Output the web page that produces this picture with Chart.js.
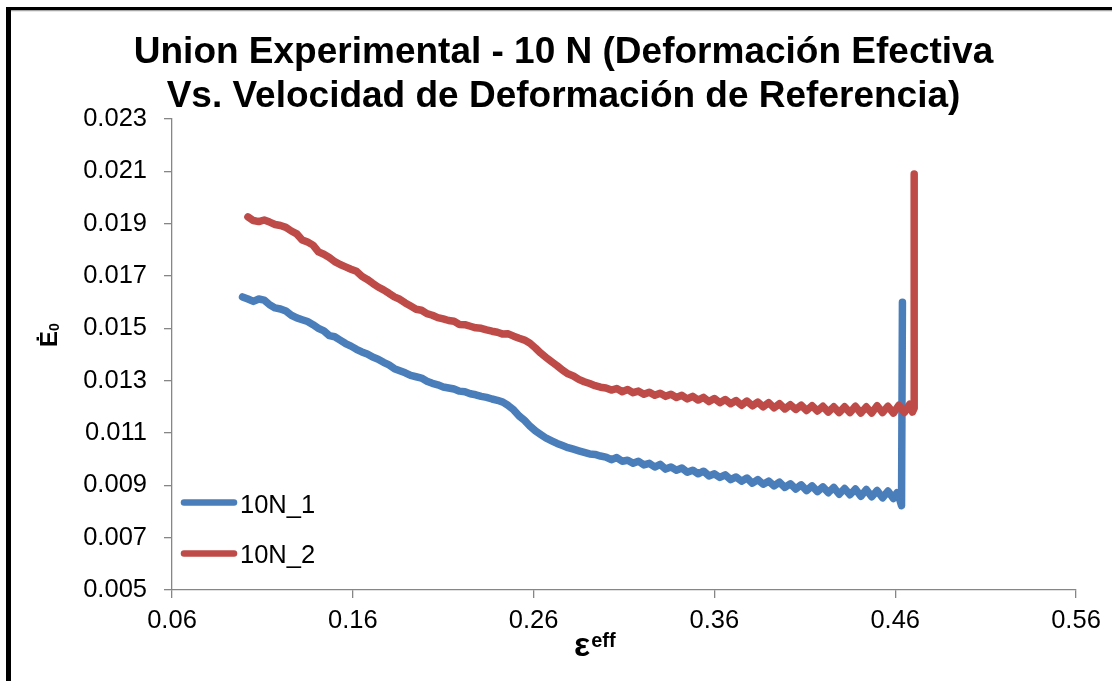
<!DOCTYPE html>
<html>
<head>
<meta charset="utf-8">
<script src="https://cdn.jsdelivr.net/npm/chart.js@4.4.1/dist/chart.umd.min.js"></script>
<style>
  html, body { margin: 0; padding: 0; background: #fff; }
  #wrap { width: 1112px; height: 681px; }
</style>
</head>
<body>
<div id="wrap"><canvas id="chart" width="1112" height="681"></canvas></div>
<script>
// values
const titleLines = ["Union Experimental - 10 N (Deformación Efectiva", "Vs. Velocidad de Deformación de Referencia)"];
const seriesNames = ["10N_1", "10N_2"];
const xTickVals = [0.06, 0.16, 0.26, 0.36, 0.46, 0.56];
const yTickVals = [0.005, 0.007, 0.009, 0.011, 0.013, 0.015, 0.017, 0.019, 0.021, 0.023];

// 10N_1 (blue)
const n1X = [0.099, 0.102, 0.105, 0.108, 0.111, 0.114, 0.117, 0.120, 0.123, 0.126, 0.129, 0.132, 0.135, 0.138, 0.141,
  0.144, 0.147, 0.150, 0.153, 0.156, 0.159, 0.162, 0.165, 0.168, 0.171, 0.174, 0.177, 0.180, 0.183, 0.186,
  0.189, 0.192, 0.195, 0.198, 0.201, 0.204, 0.207, 0.210, 0.213, 0.216, 0.219, 0.222, 0.225, 0.228, 0.231,
  0.234, 0.237, 0.240, 0.243, 0.246, 0.249, 0.252, 0.255, 0.258, 0.261, 0.264, 0.267, 0.270, 0.273, 0.276,
  0.279, 0.282, 0.285, 0.288, 0.291, 0.294, 0.297,
  0.300, 0.303, 0.306, 0.309, 0.312, 0.315, 0.318, 0.321, 0.324, 0.327, 0.330, 0.333, 0.336, 0.339, 0.342,
  0.345, 0.348, 0.351, 0.354, 0.357, 0.360, 0.363, 0.366, 0.369, 0.372, 0.375, 0.378, 0.381, 0.384, 0.387,
  0.390, 0.393, 0.396, 0.399, 0.402, 0.405, 0.408, 0.411, 0.414, 0.417, 0.420, 0.423, 0.426, 0.429, 0.432,
  0.435, 0.438, 0.441, 0.444, 0.447, 0.450, 0.453, 0.456, 0.459, 0.461, 0.4625, 0.4635, 0.4640];
const n1Y = [0.01620, 0.01612, 0.01603, 0.01612, 0.01608, 0.01590, 0.01578, 0.01574, 0.01566, 0.01550, 0.01540, 0.01533, 0.01526, 0.01514, 0.01500,
  0.01490, 0.01472, 0.01468, 0.01455, 0.01442, 0.01432, 0.01420, 0.01410, 0.01402, 0.01390, 0.01382, 0.01370, 0.01360, 0.01346, 0.01338,
  0.01330, 0.01320, 0.01315, 0.01310, 0.01298, 0.01290, 0.01284, 0.01276, 0.01272, 0.01268, 0.01260, 0.01258, 0.01250, 0.01246, 0.01240,
  0.01236, 0.01230, 0.01225, 0.01218, 0.01205, 0.01188, 0.01165, 0.01148, 0.01126, 0.01108, 0.01094, 0.01080, 0.01070, 0.01060, 0.01052,
  0.01044, 0.01038, 0.01032, 0.01026, 0.01020, 0.01018, 0.01012,
  0.01008, 0.00998, 0.01006, 0.00992, 0.00996, 0.00984, 0.00992, 0.00978, 0.00984, 0.00970, 0.00980, 0.00962, 0.00970, 0.00958, 0.00966,
  0.00950, 0.00958, 0.00944, 0.00954, 0.00936, 0.00944, 0.00930, 0.00940, 0.00922, 0.00932, 0.00916, 0.00928, 0.00908, 0.00922, 0.00904,
  0.00916, 0.00898, 0.00912, 0.00892, 0.00906, 0.00886, 0.00902, 0.00880, 0.00898, 0.00876, 0.00894, 0.00872, 0.00892, 0.00866, 0.00888,
  0.00864, 0.00886, 0.00858, 0.00884, 0.00856, 0.00880, 0.00852, 0.00878, 0.00850, 0.00872, 0.00846, 0.00822, 0.01600];

// 10N_2 (red)
const n2X = [0.102, 0.105, 0.108, 0.111, 0.114, 0.117, 0.120, 0.123, 0.126, 0.129, 0.132, 0.135, 0.138, 0.141, 0.144,
  0.147, 0.150, 0.153, 0.156, 0.159, 0.162, 0.165, 0.168, 0.171, 0.174, 0.177, 0.180, 0.183, 0.186, 0.189,
  0.192, 0.195, 0.198, 0.201, 0.204, 0.207, 0.210, 0.213, 0.216, 0.219, 0.222, 0.225, 0.228, 0.231, 0.234,
  0.237, 0.240, 0.243, 0.246, 0.249, 0.252, 0.255, 0.258, 0.261, 0.264, 0.267, 0.270, 0.273, 0.276, 0.279,
  0.282, 0.285, 0.288, 0.291, 0.294, 0.297,
  0.300, 0.303, 0.306, 0.309, 0.312, 0.315, 0.318, 0.321, 0.324, 0.327, 0.330, 0.333, 0.336, 0.339, 0.342,
  0.345, 0.348, 0.351, 0.354, 0.357, 0.360, 0.363, 0.366, 0.369, 0.372, 0.375, 0.378, 0.381, 0.384, 0.387,
  0.390, 0.393, 0.396, 0.399, 0.402, 0.405, 0.408, 0.411, 0.414, 0.417, 0.420, 0.423, 0.426, 0.429, 0.432,
  0.435, 0.438, 0.441, 0.444, 0.447, 0.450, 0.453, 0.456, 0.459, 0.462, 0.465, 0.468, 0.4695, 0.4705, 0.4705];
const n2Y = [0.01926, 0.01912, 0.01908, 0.01914, 0.01906, 0.01897, 0.01893, 0.01886, 0.01872, 0.01861, 0.01838, 0.01830, 0.01818, 0.01792, 0.01783,
  0.01771, 0.01755, 0.01744, 0.01735, 0.01726, 0.01718, 0.01699, 0.01687, 0.01672, 0.01658, 0.01647, 0.01634, 0.01620, 0.01611, 0.01597,
  0.01585, 0.01573, 0.01569, 0.01556, 0.01550, 0.01541, 0.01536, 0.01530, 0.01527, 0.01515, 0.01514, 0.01508, 0.01502, 0.01500, 0.01494,
  0.01489, 0.01485, 0.01478, 0.01479, 0.01470, 0.01462, 0.01455, 0.01443, 0.01425, 0.01405, 0.01388, 0.01372, 0.01357, 0.01340, 0.01326,
  0.01318, 0.01305, 0.01296, 0.01289, 0.01281, 0.01275,
  0.01272, 0.01264, 0.01270, 0.01258, 0.01266, 0.01254, 0.01260, 0.01248, 0.01256, 0.01244, 0.01252, 0.01240, 0.01248, 0.01236, 0.01244,
  0.01230, 0.01240, 0.01226, 0.01236, 0.01220, 0.01232, 0.01216, 0.01228, 0.01212, 0.01224, 0.01206, 0.01222, 0.01204, 0.01218, 0.01200,
  0.01216, 0.01196, 0.01212, 0.01192, 0.01208, 0.01190, 0.01206, 0.01186, 0.01204, 0.01184, 0.01202, 0.01180, 0.01200, 0.01178, 0.01200,
  0.01178, 0.01202, 0.01176, 0.01200, 0.01176, 0.01204, 0.01178, 0.01202, 0.01176, 0.01206, 0.01178, 0.01210, 0.01180, 0.01195, 0.02090];

const blue = '#4A7EBB';
const red = '#BE4B48';
const axisGray = '#868686';
const font = '"Liberation Sans", Arial, sans-serif';

const toPoints = (xs, ys) => xs.map((x, i) => ({ x: x, y: ys[i] }));

// white page, black frame, title, axis titles, legend
const decorPlugin = {
    id: 'decor',
    beforeDraw(chart) {
        const c = chart.ctx;
        c.save();
        c.fillStyle = '#fff';
        c.fillRect(0, 0, chart.width, chart.height);
        c.fillStyle = '#000';
        c.fillRect(6, 7, chart.width - 6, 3.5);
        c.fillRect(6, 7, 5, chart.height - 7);
        c.fillStyle = '#d0d0d0';
        c.fillRect(11, 10.5, chart.width - 11, 1);
        c.restore();
    },
    afterDraw(chart) {
        const c = chart.ctx;
        c.save();
        c.fillStyle = '#000';

        // title
        c.font = 'bold 37px ' + font;
        c.textAlign = 'center';
        c.textBaseline = 'alphabetic';
        c.fillText(titleLines[0], 563.5, 63);
        c.fillText(titleLines[1], 563.5, 107);

        // x title: epsilon with superscript eff
        c.textAlign = 'left';
        c.font = 'bold 34px ' + font;
        c.fillText('ε', 574, 656);
        const ew = c.measureText('ε').width;
        c.font = 'bold 20px ' + font;
        c.fillText('eff', 574 + ew + 1, 647);

        // y title: E dot with subscript 0, rotated
        c.save();
        c.translate(57, 347);
        c.rotate(-Math.PI / 2);
        c.font = 'bold 24px ' + font;
        c.fillText('Ė', 0, 0);
        const w = c.measureText('Ė').width;
        c.font = 'bold 14px ' + font;
        c.fillText('0', w, 2);
        c.restore();

        // legend inside the plot
        const items = [
            { name: seriesNames[0], color: blue, y: 502.5, base: 512.5 },
            { name: seriesNames[1], color: red, y: 553.5, base: 563 }
        ];
        c.font = '25.5px ' + font;
        items.forEach(it => {
            c.strokeStyle = it.color;
            c.lineWidth = 6.5;
            c.lineCap = 'round';
            c.beginPath();
            c.moveTo(184, it.y);
            c.lineTo(234, it.y);
            c.stroke();
            c.fillStyle = '#000';
            c.fillText(it.name, 240, it.base);
        });
        c.restore();
    }
};

const lineStyle = {
    showLine: true,
    borderWidth: 7.5,
    pointRadius: 0,
    borderCapStyle: 'round',
    borderJoinStyle: 'round',
    tension: 0
};

const ctx = document.getElementById('chart');
const chart = new Chart(ctx, {
    type: 'scatter',
    data: {
        datasets: [
            Object.assign({ label: seriesNames[0], data: toPoints(n1X, n1Y), borderColor: blue, backgroundColor: blue, order: 2 }, lineStyle),
            Object.assign({ label: seriesNames[1], data: toPoints(n2X, n2Y), borderColor: red, backgroundColor: red, order: 1 }, lineStyle)
        ]
    },
    options: {
        responsive: false,
        animation: false,
        events: [],
        layout: { padding: { left: 10, right: 36, top: 119, bottom: 0 } },
        plugins: {
            legend: { display: false },
            title: { display: false },
            tooltip: { enabled: false }
        },
        scales: {
            x: {
                type: 'linear',
                min: 0.06,
                max: 0.56,
                afterBuildTicks: s => { s.ticks = xTickVals.map(v => ({ value: v })); },
                afterFit: s => { s.height = 91; },
                ticks: {
                    color: '#000',
                    font: { family: font, size: 25.5 },
                    padding: 8,
                    maxRotation: 0,
                    callback: v => v.toFixed(2)
                },
                grid: { display: true, drawOnChartArea: false, drawTicks: true, tickLength: 8, color: axisGray, lineWidth: 1.3 },
                border: { display: true, color: axisGray, width: 1.3 }
            },
            y: {
                min: 0.005,
                max: 0.023,
                afterBuildTicks: s => { s.ticks = yTickVals.map(v => ({ value: v })); },
                afterFit: s => { s.width = 162; },
                ticks: {
                    color: '#000',
                    font: { family: font, size: 25.5 },
                    padding: 17,
                    callback: v => v.toFixed(3)
                },
                grid: { display: true, drawOnChartArea: false, drawTicks: true, tickLength: 8, color: axisGray, lineWidth: 1.3 },
                border: { display: true, color: axisGray, width: 1.3 }
            }
        }
    },
    plugins: [decorPlugin]
});
</script>
</body>
</html>
